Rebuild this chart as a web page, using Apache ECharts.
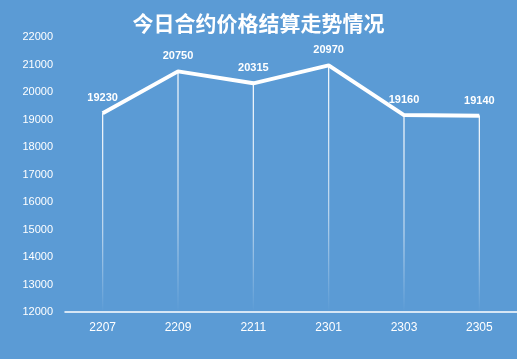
<!DOCTYPE html>
<html><head><meta charset="utf-8">
<script src="https://cdn.jsdelivr.net/npm/echarts@6/dist/echarts.min.js"></script>
<style>html,body{margin:0;padding:0;background:#5B9BD5}#c{width:517px;height:359px}</style>
</head><body><div id="c"></div>
<script>
const categories = ['2207','2209','2211','2301','2303','2305'];
const prices = [19230, 20750, 20315, 20970, 19160, 19140];
const yMin = 12000, yMax = 22000, yStep = 1000;

const chart = echarts.init(document.getElementById('c'));
chart.setOption({
  backgroundColor: '#5B9BD5',
  animation: false,
  title: {
    text: '今日合约价格结算走势情况',
    left: 'center', top: 8,
    textStyle: { color: '#fff', fontSize: 21, fontWeight: 'bold', fontFamily: 'Noto Sans CJK SC' }
  },
  grid: { left: 65, right: 0, top: 37, bottom: 47 },
  xAxis: {
    type: 'category', data: categories, boundaryGap: true,
    axisLine: { lineStyle: { color: '#fff', width: 1.5 } },
    axisTick: { show: false },
    axisLabel: { color: '#fff', fontSize: 12, margin: 10, fontFamily: 'Liberation Sans' }
  },
  yAxis: {
    type: 'value', min: yMin, max: yMax, interval: yStep,
    axisLine: { show: false }, axisTick: { show: false }, splitLine: { show: false },
    axisLabel: { color: '#fff', fontSize: 11, margin: 12, fontFamily: 'Liberation Sans', formatter: v => String(v) }
  },
  series: [
    {
      type: 'bar', data: prices, barWidth: 1.2, silent: true,
      itemStyle: { color: new echarts.graphic.LinearGradient(0, 0, 0, 1, [
        { offset: 0, color: 'rgba(255,255,255,1)' },
        { offset: 0.6, color: 'rgba(255,255,255,0.6)' },
        { offset: 1, color: 'rgba(255,255,255,0)' }
      ]) },
      z: 1
    },
    {
      type: 'line', data: prices, symbol: 'circle', symbolSize: 1, showSymbol: true, z: 3,
      itemStyle: { color: '#fff' },
      lineStyle: { color: '#fff', width: 4 },
      label: { show: true, position: 'top', distance: 9, color: '#fff', fontSize: 11, fontWeight: 'bold', fontFamily: 'Liberation Sans', formatter: p => String(p.value) }
    }
  ]
});
</script></body></html>
